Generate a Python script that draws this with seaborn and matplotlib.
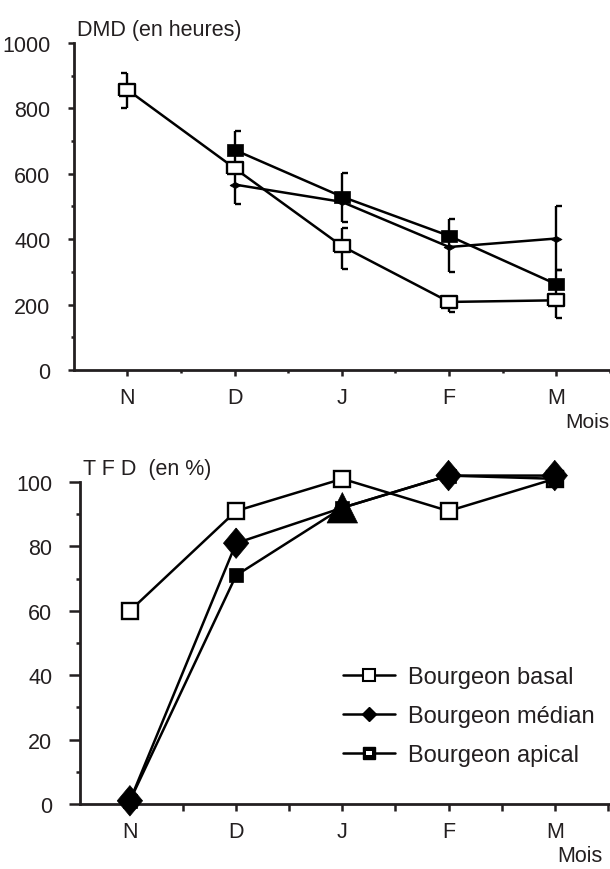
import numpy as np
import pandas as pd
import matplotlib
matplotlib.use("Agg")
import matplotlib.pyplot as plt
import seaborn as sns
from matplotlib.path import Path
from matplotlib.lines import Line2D

# --- donnees ---
mois = ["N", "D", "J", "F", "M"]

# DMD (en heures)
dmd_basal = [857, 617, 379, 208, 213]
dmd_median = [np.nan, 567, 514, 376, 402]
dmd_apical = [np.nan, 673, 530, 410, 262]

# barres d'erreur (bas / haut)
dmd_basal_bas = [800, np.nan, 308, 178, 160]
dmd_basal_haut = [908, np.nan, 434, 208, 213]
dmd_median_bas = [np.nan, 508, np.nan, 300, 305]
dmd_median_haut = [np.nan, 617, np.nan, 461, 500]
dmd_apical_bas = [np.nan, 617, 453, np.nan, 220]
dmd_apical_haut = [np.nan, 732, 603, np.nan, 305]

# TFD (en %)
tfd_basal = [60, 91, 101, 91, 101]
tfd_median = [1, 81, 92, 102, 102]
tfd_apical = [1, 71, 92, 102, 101]

pos = np.arange(1, len(mois) + 1)

sns.set_style("ticks")
plt.rcParams['font.family'] = ['Liberation Sans Narrow', 'Liberation Sans', 'DejaVu Sans']

# marqueurs
rect = Path([(-0.65, -0.5), (0.65, -0.5), (0.65, 0.5), (-0.65, 0.5), (-0.65, -0.5)])
losange_plat = Path([(-1, 0), (0, 0.55), (1, 0), (0, -0.55), (-1, 0)])
losange = Path([(0, 0.6), (0.5, 0), (0, -0.6), (-0.5, 0), (0, 0.6)])
cap_d = Path([(0, 0), (1, 0)], [Path.MOVETO, Path.LINETO])
cap_g = Path([(0, 0), (-1, 0)], [Path.MOVETO, Path.LINETO])
petit_rect = Path([(-1, -0.45), (1, -0.45), (1, 0.45), (-1, 0.45), (-1, -0.45)])

fig = plt.figure(figsize=(6.1, 8.7), dpi=100)
ax1 = fig.add_axes([0.1213, 0.5736, 0.8787, 0.3759])
ax2 = fig.add_axes([0.1311, 0.0747, 0.8689, 0.3701])


def courbe(ax, y, **kw):
    sns.lineplot(x=pos, y=np.array(y, float), color="black", lw=1.8,
                 clip_on=False, ax=ax, **kw)


def barres(ax, y, bas, haut, cote):
    y = np.array(y, float)
    bas = np.array(bas, float)
    haut = np.array(haut, float)
    m = ~np.isnan(bas)
    ax.vlines(pos[m], bas[m], haut[m], color="black", lw=1.7, zorder=1)
    for v in (bas, haut):
        for i in np.where(m & (v != y))[0]:
            ax.plot(pos[i], v[i], ls="none", marker=cap_g if cote[i] == "g" else cap_d,
                    ms=9, mew=1.7, color="black", zorder=1)


cotes = ["g", "d", "d", "d", "d"]
barres(ax1, dmd_basal, dmd_basal_bas, dmd_basal_haut, cotes)
barres(ax1, dmd_median, dmd_median_bas, dmd_median_haut, cotes)
barres(ax1, dmd_apical, dmd_apical_bas, dmd_apical_haut, cotes)

courbe(ax1, dmd_basal, marker=rect, markersize=11, markerfacecolor="white",
       markeredgecolor="black", markeredgewidth=1.7)
courbe(ax1, dmd_median, marker=losange_plat, markersize=8, markerfacecolor="black",
       markeredgecolor="black", markeredgewidth=0.5)
courbe(ax1, dmd_apical, marker=rect, markersize=11, markerfacecolor="black",
       markeredgecolor="black", markeredgewidth=0.5)

ax1.set_xlim(0.503, 5.43)
ax1.set_ylim(0, 1000)
ax1.set_yticks([0, 200, 400, 600, 800, 1000])
ax1.set_yticks([100, 300, 500, 700, 900], minor=True)

# TFD
courbe(ax2, tfd_basal, marker="s", markersize=11.5, markerfacecolor="white",
       markeredgecolor="black", markeredgewidth=1.7)
courbe(ax2, tfd_apical, marker="s", markersize=9.5, markerfacecolor="black",
       markeredgecolor="black", markeredgewidth=0.5)
courbe(ax2, tfd_median)
formes = pd.DataFrame({"x": pos, "y": tfd_median,
                       "forme": ["L", "L", "T", "L", "L"]})
sns.scatterplot(data=formes, x="x", y="y", style="forme",
                markers={"L": losange, "T": "^"}, s=480, color="black",
                edgecolor="black", linewidth=0.5, legend=False, clip_on=False,
                zorder=3, ax=ax2)

ax2.set_xlim(0.53, 5.52)
ax2.set_ylim(0, 100)
ax2.set_yticks([0, 20, 40, 60, 80, 100])
ax2.set_yticks([10, 30, 50, 70, 90], minor=True)

for ax in (ax1, ax2):
    ax.set_xticks(pos)
    ax.set_xticklabels(mois)
    ax.set_xticks([1.5, 2.5, 3.5, 4.5, 5.5], minor=True)
    ax.set_xlabel("")
    ax.set_ylabel("")
    for s in ("top", "right"):
        ax.spines[s].set_visible(False)
    for s in ("left", "bottom"):
        ax.spines[s].set_linewidth(2)
        ax.spines[s].set_color("#231f20")
    ax.tick_params(which="both", direction="out", width=1.8, color="#231f20",
                   labelsize=15.5, labelcolor="#231f20")

ax1.tick_params(axis="y", which="major", length=4, pad=13)
ax1.tick_params(axis="y", which="minor", length=2)
ax1.tick_params(axis="x", which="major", length=4, pad=8)
ax1.tick_params(axis="x", which="minor", length=2)
ax2.tick_params(axis="y", which="major", length=8, pad=12)
ax2.tick_params(axis="y", which="minor", length=3)
ax2.tick_params(axis="x", which="major", length=5, pad=7)
ax2.tick_params(axis="x", which="minor", length=5)

fig.text(0.126, 0.965, "DMD (en heures)", fontsize=15.5, color="#231f20", va="center")
fig.text(0.926, 0.514, "Mois", fontsize=15, color="#231f20", va="center")
fig.text(0.136, 0.46, "T F D  (en %)", fontsize=15.5, color="#231f20", va="center")
fig.text(0.913, 0.016, "Mois", fontsize=15.5, color="#231f20", va="center")

# legende
h_basal = Line2D([], [], color="black", lw=1.8, marker="s", markersize=8,
                 markerfacecolor="white", markeredgecolor="black", markeredgewidth=1.5)
h_median = Line2D([], [], color="black", lw=1.8, marker="D", markersize=7,
                  markerfacecolor="black", markeredgecolor="black")
h_apical = (Line2D([], [], color="black", lw=1.8, marker="s", markersize=9,
                   markerfacecolor="black", markeredgecolor="black"),
            Line2D([], [], ls="none", marker=petit_rect, markersize=5,
                   markerfacecolor="white", markeredgewidth=0))
fig.legend([h_basal, h_median, h_apical],
           ["Bourgeon basal", "Bourgeon médian", "Bourgeon apical"],
           loc="upper left", bbox_to_anchor=(0.562, 0.233), frameon=False,
           fontsize=17, handlelength=2.2, handletextpad=0.55, labelspacing=0.72,
           borderpad=0, borderaxespad=0, labelcolor="#231f20")

fig.savefig("out.png", dpi=100)
